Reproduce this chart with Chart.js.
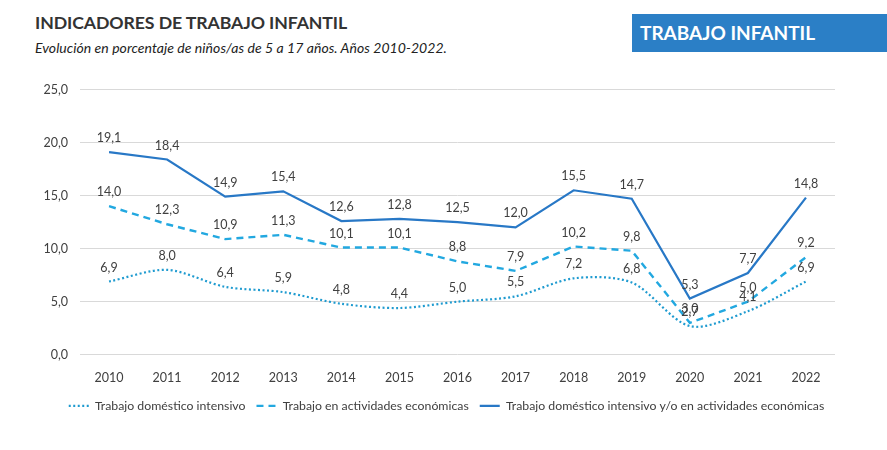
<!DOCTYPE html>
<html><head><meta charset="utf-8">
<script src="https://cdn.jsdelivr.net/npm/chart.js@4/dist/chart.umd.min.js"></script>
<style>
html,body{margin:0;padding:0;background:#fff;width:887px;height:450px;overflow:hidden;font-family:Lato,"Open Sans",sans-serif;}
#title{position:absolute;left:35px;top:12px;font-size:17.7px;font-weight:bold;color:#333;letter-spacing:-0.1px;}
#sub{position:absolute;left:35px;top:39px;font-size:14px;font-style:italic;color:#222;letter-spacing:0.05px;}
#box{position:absolute;left:632px;top:14px;width:255px;height:38px;background:#2b7fc6;color:#fff;font-weight:bold;font-size:19px;line-height:38px;box-sizing:border-box;padding-left:8px;}
#wrap{position:absolute;left:0;top:70px;width:887px;height:360px;}
</style></head><body>
<div id="title">INDICADORES DE TRABAJO INFANTIL</div>
<div id="sub">Evolución en porcentaje de niños/as de 5 a 17 años. Años 2010-2022.</div>
<div id="box">TRABAJO INFANTIL</div>
<div id="wrap"><canvas id="c" width="887" height="360"></canvas></div>
<script>
const years = ["2010","2011","2012","2013","2014","2015","2016","2017","2018","2019","2020","2021","2022"];
const domestico = [6.9, 8.0, 6.4, 5.9, 4.8, 4.4, 5.0, 5.5, 7.2, 6.8, 2.7, 4.1, 6.9];
const economicas = [14.0, 12.3, 10.9, 11.3, 10.1, 10.1, 8.8, 7.9, 10.2, 9.8, 3.0, 5.0, 9.2];
const ambos = [19.1, 18.4, 14.9, 15.4, 12.6, 12.8, 12.5, 12.0, 15.5, 14.7, 5.3, 7.7, 14.8];
const yTicks = [0, 5, 10, 15, 20, 25];

const fmt = v => v.toFixed(1).replace('.', ',');

const labelPlugin = {
  id: 'vlabels',
  afterLayout(chart) {
    if (chart.legend) { chart.legend.left += 29; chart.legend.right += 29; }
  },
  afterDatasetsDraw(chart) {
    const ctx = chart.ctx;
    ctx.save();
    ctx.font = '12.5px Lato, "Open Sans", sans-serif';
    ctx.fillStyle = '#404040';
    ctx.textAlign = 'center';
    ctx.textBaseline = 'middle';
    chart.data.datasets.forEach((ds, i) => {
      const meta = chart.getDatasetMeta(i);
      meta.data.forEach((pt, j) => {
        ctx.fillText(fmt(ds.data[j]), pt.x, pt.y - 14);
      });
    });
    ctx.restore();
  }
};

new Chart(document.getElementById('c'), {
  type: 'line',
  data: {
    labels: years,
    datasets: [
      { label: 'Trabajo doméstico intensivo', data: domestico, borderColor: '#1f9bd0', backgroundColor: '#1f9bd0',
        borderWidth: 2.2, borderDash: [2, 2.5], borderCapStyle: 'butt', tension: 0.3, pointRadius: 0, fill: false,
        pointStyle: 'line' },
      { label: 'Trabajo en actividades económicas', data: economicas, borderColor: '#22a8e0', backgroundColor: '#22a8e0',
        borderWidth: 2.4, borderDash: [7, 5], tension: 0, pointRadius: 0, fill: false, pointStyle: 'line' },
      { label: 'Trabajo doméstico intensivo y/o en actividades económicas', data: ambos, borderColor: '#2878c6', backgroundColor: '#2878c6',
        borderWidth: 2.2, tension: 0, pointRadius: 0, fill: false, pointStyle: 'line' }
    ]
  },
  options: {
    responsive: false,
    animation: false,
    layout: { padding: { left: 0, right: 52, top: 19, bottom: 8 } },
    plugins: {
      legend: {
        position: 'bottom',
        labels: {
          usePointStyle: true, pointStyle: 'line', boxWidth: 20, boxHeight: 12, pointStyleWidth: 20,
          color: '#404040', font: { family: 'Lato, "Open Sans", sans-serif', size: 12.3 }, padding: 11,
          generateLabels(chart) {
            const items = Chart.defaults.plugins.legend.labels.generateLabels(chart);
            items.forEach(it => {
              const ds = chart.data.datasets[it.datasetIndex];
              it.lineDash = ds.borderDash || [];
              it.lineWidth = ds.borderWidth;
              it.strokeStyle = ds.borderColor;
            });
            return items;
          }
        }
      },
      tooltip: { enabled: false }
    },
    scales: {
      x: {
        offset: true,
        grid: { display: false },
        border: { display: false },
        ticks: { color: '#404040', font: { family: 'Lato, "Open Sans", sans-serif', size: 12.5 }, padding: 8 },
        afterFit(s) { s.height = 34; }
      },
      y: {
        min: 0, max: 25,
        afterBuildTicks(s) { s.ticks = yTicks.map(v => ({ value: v })); },
        grid: { color: '#d9d9d9', lineWidth: 1, drawTicks: false },
        border: { display: false },
        ticks: { color: '#404040', font: { family: 'Lato, "Open Sans", sans-serif', size: 12.5 }, padding: 12,
                 callback: v => fmt(v) },
        afterFit(s) { s.width = 80; }
      }
    }
  },
  plugins: [labelPlugin]
});
</script>
</body></html>
